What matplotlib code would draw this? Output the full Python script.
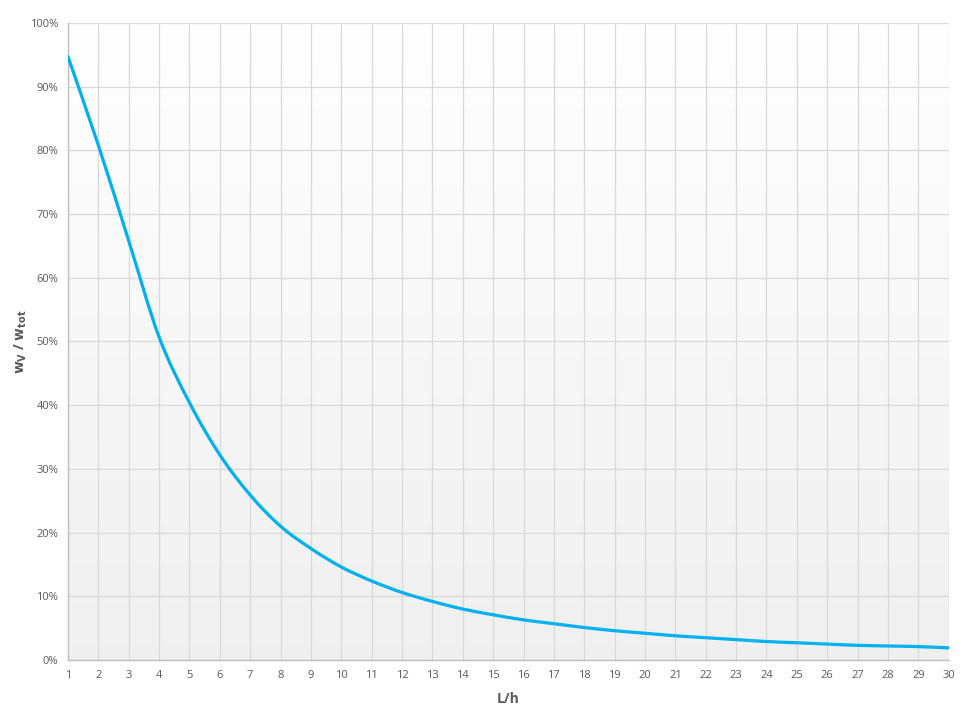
"""
Share of shear deflection w_V / w_tot against slenderness L/h.
"""

import matplotlib
matplotlib.use('Agg')
import matplotlib.pyplot as plt
import numpy as np
from matplotlib.patches import PathPatch
from matplotlib.path import Path
from matplotlib.ticker import FuncFormatter, MultipleLocator


# values (percent), one per L/h step
slenderness = list(range(1, 31))
shear_share = [94.7, 80.8, 65.8, 50.7, 40.4, 32.2, 25.9, 21.0, 17.5, 14.6,
               12.4, 10.6, 9.2, 8.0, 7.1, 6.3, 5.7, 5.1, 4.6, 4.2,
               3.8, 3.5, 3.2, 2.9, 2.7, 2.5, 2.3, 2.2, 2.1, 1.9]

LINE_COLOR = '#00B0F0'
GRID_COLOR = '#D9D9D9'
TEXT_COLOR = '#595959'

plt.rcParams['font.family'] = ['Open Sans', 'DejaVu Sans']


def smooth_path(xs, ys):
    """Excel-style smoothed line: cubic Bezier segments through the points."""
    pts = np.column_stack([xs, ys]).astype(float)
    verts = [pts[0]]
    codes = [Path.MOVETO]
    n = len(pts)
    for i in range(n - 1):
        p0 = pts[max(i - 1, 0)]
        p1, p2 = pts[i], pts[i + 1]
        p3 = pts[min(i + 2, n - 1)]
        c1 = p1 + (p2 - p0) / 6.0
        c2 = p2 - (p3 - p1) / 6.0
        verts += [c1, c2, p2]
        codes += [Path.CURVE4] * 3
    return Path(verts, codes)


fig = plt.figure(figsize=(9.71, 7.17), dpi=100)
ax = fig.add_axes([0.070, 0.0795, 0.907, 0.8885])

# subtle white-to-grey plot area gradient, as in the Excel original
shade = np.linspace(0.94, 1.0, 256).reshape(-1, 1)
grad = np.dstack([shade, shade, shade])
ax.imshow(grad, extent=[1, 30, 0, 100], aspect='auto', zorder=0,
          origin='lower', interpolation='bilinear')

curve = PathPatch(smooth_path(slenderness, shear_share), facecolor='none',
                  edgecolor=LINE_COLOR, linewidth=2.3, capstyle='round',
                  joinstyle='round', zorder=3)
ax.add_patch(curve)

ax.set_xlim(1, 30)
ax.set_ylim(0, 100)
ax.xaxis.set_major_locator(MultipleLocator(1))
ax.yaxis.set_major_locator(MultipleLocator(10))
ax.yaxis.set_major_formatter(FuncFormatter(lambda v, _: f'{v:.0f}%'))

ax.grid(True, color=GRID_COLOR, linewidth=0.9, zorder=1)
ax.set_axisbelow(True)
ax.tick_params(length=0, labelsize=8, colors=TEXT_COLOR, pad=7)

for side in ('top', 'right'):
    ax.spines[side].set_visible(False)
for side in ('left', 'bottom'):
    ax.spines[side].set_color('#BFBFBF')
    ax.spines[side].set_linewidth(1.0)

ax.set_xlabel('L/h', fontsize=10, fontweight='bold', color=TEXT_COLOR, labelpad=8)
ax.set_ylabel(r'$\mathbf{w_V}$ / $\mathbf{w_{tot}}$', fontsize=10,
              fontweight='bold', color=TEXT_COLOR, labelpad=1)

plt.savefig('out.png', dpi=100)
plt.close()
